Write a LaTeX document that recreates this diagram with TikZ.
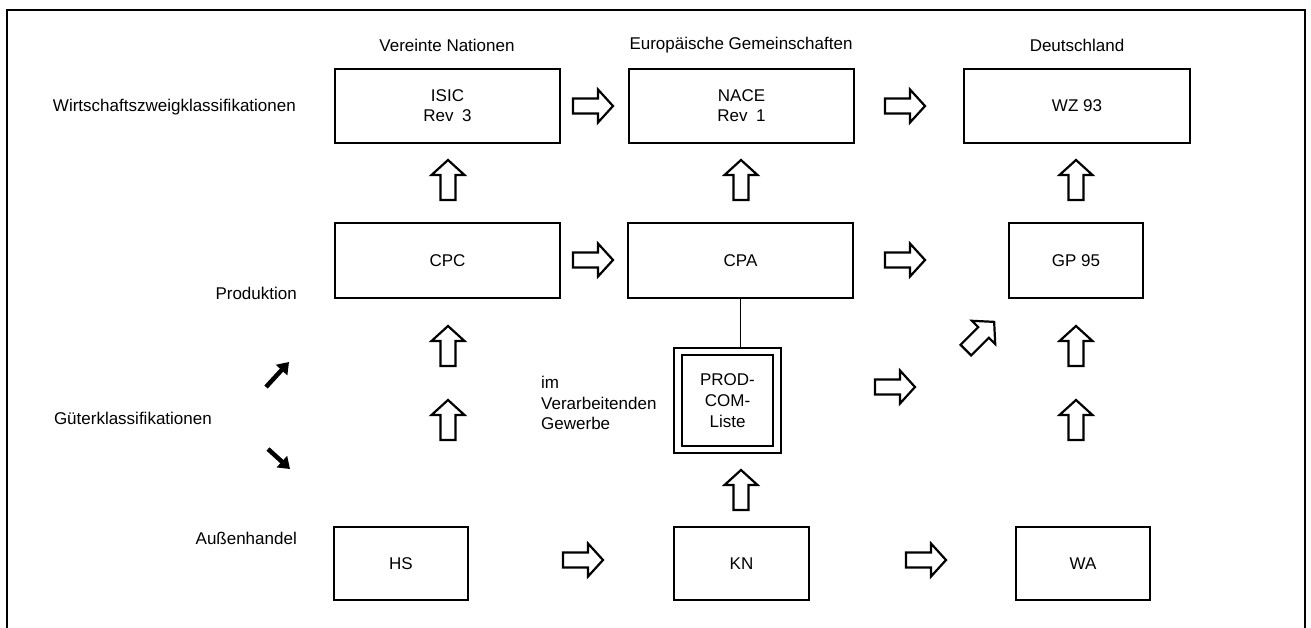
\documentclass[tikz,border=0pt]{standalone}
\usepackage{fontspec}
\setmainfont{Liberation Sans}
\usetikzlibrary{calc,arrows.meta}
\begin{document}
\begin{tikzpicture}[x=1pt,y=-1pt,
  txt/.style={font=\fontsize{17}{20.5}\selectfont, inner sep=0pt},
  cbox/.style={draw, line width=2.4pt, inner sep=0pt, align=center,
     font=\fontsize{17}{20}\selectfont},
  harrow/.pic={\draw[line width=2.2pt, line join=miter, fill=white]
     (-20,-7.5) -- (5,-7.5) -- (5,-16.5) -- (20,0) -- (5,16.5) -- (5,7.5) -- (-20,7.5) -- cycle;},
  blackarrow/.style={line width=4.5pt, -{Triangle[length=11pt,width=15pt]}}
]
\useasboundingbox (0,0) rectangle (1311,627);
% frame
\draw[line width=2.4pt] (7,640) -- (7,10) -- (1305,10) -- (1305,640);

% column headers
\node[txt] (hUN) at (447,45) {Vereinte Nationen};
\node[txt] (hEG) at (741,45) {Europäische Gemeinschaften};
\node[txt] (hD)  at (1077,45) {Deutschland};

% row labels
\node[txt, anchor=east] (lW) at (296,107) {Wirtschaftszweigklassifikationen};
\node[txt, anchor=east] (lP) at (297,293) {Produktion};
\node[txt, anchor=east] (lG) at (212,418) {Güterklassifikationen};
\node[txt, anchor=east] (lA) at (297,538) {Außenhandel};

% boxes row 1
\node[cbox, minimum width=225, minimum height=74] (isic) at (447.5,106) {ISIC\\Rev\enspace 3};
\node[cbox, minimum width=225, minimum height=74] (nace) at (741.5,106) {NACE\\Rev\enspace 1};
\node[cbox, minimum width=226, minimum height=74] (wz)   at (1077,106) {WZ 93};
% boxes row 2
\node[cbox, minimum width=225, minimum height=75] (cpc) at (447.5,260.5) {CPC};
\node[cbox, minimum width=225, minimum height=75] (cpa) at (740.5,260.5) {CPA};
\node[cbox, minimum width=134, minimum height=75] (gp)  at (1076,260.5) {GP 95};
% boxes row 3
\node[cbox, minimum width=134, minimum height=73] (hs) at (401,563.5) {HS};
\node[cbox, minimum width=135, minimum height=73] (kn) at (741.5,563.5) {KN};
\node[cbox, minimum width=134, minimum height=73] (wa) at (1083,563.5) {WA};
% PRODCOM
\node[cbox, minimum width=107, minimum height=105] (prodo) at (727.5,400.5) {};
\node[cbox, minimum width=91, minimum height=91, font=\fontsize{17}{21}\selectfont] (prodi) at (727.5,400.5) {PROD-\\COM-\\Liste};
\node[txt, anchor=west, align=left] (imv) at (541,403) {im\\Verarbeitenden\\Gewerbe};

% connector CPA - PRODCOM
\draw[line width=1.3pt] (cpa.south) -- (cpa.south |- prodo.north);

% hollow arrows, horizontal
\pic at (593,106) {harrow};
\pic at (905,106) {harrow};
\pic at (593,260) {harrow};
\pic at (905,260) {harrow};
\pic at (895,387) {harrow};
\pic at (583,560) {harrow};
\pic at (926,560) {harrow};
% hollow arrows, vertical
\pic[rotate=90] at (448,180) {harrow};
\pic[rotate=90] at (741,180) {harrow};
\pic[rotate=90] at (1076,180) {harrow};
\pic[rotate=90] at (448,346) {harrow};
\pic[rotate=90] at (448,420) {harrow};
\pic[rotate=90] at (1076,346) {harrow};
\pic[rotate=90] at (1076,420) {harrow};
\pic[rotate=90] at (741,490) {harrow};
% diagonal
\pic[rotate=45] at (980,336) {harrow};

% small black arrows
\coordinate (ua0) at (266,387);
\coordinate (ua1) at (289,362);
\coordinate (da0) at (268,449);
\coordinate (da1) at (290,469);
\draw[blackarrow] (ua0) -- (ua1);
\draw[blackarrow] (da0) -- (da1);
\end{tikzpicture}
\end{document}
